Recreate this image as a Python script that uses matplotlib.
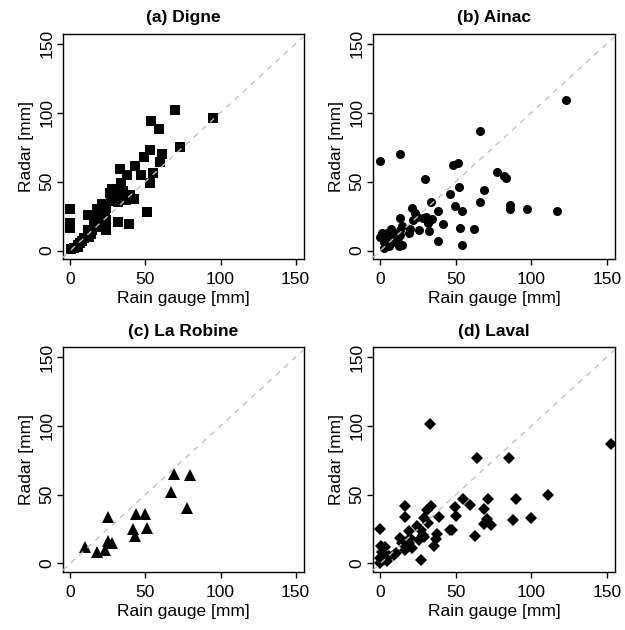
import matplotlib
matplotlib.use('Agg')
import matplotlib.pyplot as plt
import numpy as np

plt.rcParams['font.family'] = ['Liberation Sans', 'DejaVu Sans']

# (a) Digne - rain gauge vs radar [mm]
digneGauge = [70, 95, 54, 59, 73, 53, 49, 61, 60, 43, 33, 47, 55, 38, 34, 53,
              28, 26.5, 33, 30, 31.5, 39.5, 37, 42.5, 51, 21, 24, 17.7, 0, 0,
              0, 11.7, 32, 39.4, 19, 24, 23.5, 17.7, 14.6, 11.7, 12.8, 9.3,
              6.6, 4.9, 2.7, 0.4, 15.5, 20, 29, 35, 27, 16.6, 23, 8, 5, 14]
digneRadar = [102, 96, 94, 88, 75, 73, 68, 70, 64, 61, 59, 55, 56, 55, 49, 49,
              45, 42, 42, 38, 35, 40.5, 37, 37.6, 28, 34, 31, 30, 30, 20.4,
              16.2, 26, 21, 19.4, 24.7, 22.3, 15, 17.4, 15, 15, 9.7, 9,
              5.3, 2.9, 1.7, 1, 22.3, 27, 39, 43, 36, 23, 28, 7, 4, 12]

# (b) Ainac
ainacGauge = [123, 66, 13.3, 0, 51.3, 48.2, 29.6, 77.3, 81.6, 83.3, 52, 46,
              68.4, 33.6, 66, 49.3, 86.2, 85.8, 97, 117, 54, 38, 21, 22.7, 24.4,
              28.2, 30, 34, 21.6, 31.3, 41.6, 53, 61.8, 25.6, 32, 20, 12.9,
              14.4, 12.9, 13.3, 14.4, 12.2, 38.4, 54.4, 6.9, 4.4, 1.1, 0, 2.2,
              4.4, 7.8, 10, 2.2, 3.8, 6, 11.8, 8.9, 18.9]
ainacRadar = [109, 86.5, 70, 64.7, 63.5, 61.8, 52, 57, 53.8, 52.6, 45.8, 41,
              44, 35, 35, 32.5, 33.2, 30, 30.3, 29, 28.8, 28.4, 30.8, 27.6, 24.7,
              23.5, 24.7, 23, 22.3, 20.4, 19, 16.7, 15.8, 15, 14.5, 15.8, 23.5,
              17.9, 15, 11.4, 4.1, 3.4, 7, 4.1, 15.5, 12.6, 12.6, 9.7, 6.5,
              8.2, 10.2, 6.5, 1.7, 4.1, 3.4, 9, 13.1, 12.6]

# (c) La Robine
robineGauge = [69, 80, 67, 78, 25, 44, 50, 42, 51, 43, 25, 28, 23, 18, 10]
robineRadar = [65, 64, 52, 40, 34, 36, 36, 25, 26, 20, 16, 15, 10, 8, 12]

# (d) Laval
lavalGauge = [153, 33, 64, 85, 111, 89.6, 55, 71.3, 59.6, 33.8, 31, 16.4, 16.4,
              68.4, 49.6, 50, 38.9, 28.7, 31.3, 87.8, 100, 70.4, 68.9, 73.3,
              62.9, 46, 47.8, 37.6, 36.7, 35.8, 24.2, 26.7, 28.2, 25.6, 29.1,
              18.9, 21.1, 18.9, 13.3, 14.4, 16.7, 10.4, 8.9, 0, 0.7, 2.9, 1.1,
              2.2, 4.4, 0, 0, 27.3, 5.6, 19.6]
lavalRadar = [87, 101, 77, 77, 49.5, 47, 47, 47, 42.8, 42, 39, 41.5, 33.8,
              39.6, 40.8, 34.3, 33.6, 33, 29.5, 31.4, 33, 32.6, 28.7, 28.3,
              20.3, 24.2, 24.2, 21.7, 17.9, 13, 27, 24, 21, 17.4, 19.1,
              23.4, 11.4, 15, 18.6, 15, 10, 7.7, 6.5, 25, 12.6, 12, 8.2,
              4.1, 1.7, 0.5, 4.1, 2.2, 5.3, 18.6]

panels = [
    ('(a) Digne', digneGauge, digneRadar, 's', 7.0),
    ('(b) Ainac', ainacGauge, ainacRadar, 'o', 6.5),
    ('(c) La Robine', robineGauge, robineRadar, '^', 8.0),
    ('(d) Laval', lavalGauge, lavalRadar, 'D', 6.0),
]

axPos = [
    [0.1003, 0.589, 0.386, 0.357],
    [0.5963, 0.589, 0.388, 0.357],
    [0.1003, 0.0925, 0.386, 0.356],
    [0.5963, 0.0925, 0.388, 0.356],
]

fig = plt.figure(figsize=(6.25, 6.3), dpi=100)

for (title, gauge, radar, marker, size), pos in zip(panels, axPos):
    ax = fig.add_axes(pos)
    ax.plot(gauge, radar, linestyle='none', marker=marker, markersize=size,
            color='black', markeredgewidth=0, zorder=2)
    ax.axline((0, 0), slope=1, color='#c0c0c0', linestyle=(0, (4, 4)),
              linewidth=1.0, zorder=3)
    ax.set_xlim(-5, 155.5)
    ax.set_ylim(-6, 157)
    ax.set_xticks([0, 50, 100, 150])
    ax.set_yticks([0, 50, 100, 150])
    ax.set_yticklabels(['0', '50', '100', '150'], rotation=90, va='center')
    ax.tick_params(direction='out', length=4.3, width=1, labelsize=12.5)
    ax.tick_params(axis='x', pad=5)
    ax.tick_params(axis='y', pad=1.5)
    for s in ax.spines.values():
        s.set_linewidth(1.0)
    ax.set_xlabel('Rain gauge [mm]', fontsize=12.5, labelpad=3)
    ax.set_ylabel('Radar [mm]', fontsize=12.5, labelpad=4)
    ax.set_title(title, fontsize=12.5, fontweight='bold', pad=8.5)

plt.savefig('out.png', dpi=100)
plt.close()
